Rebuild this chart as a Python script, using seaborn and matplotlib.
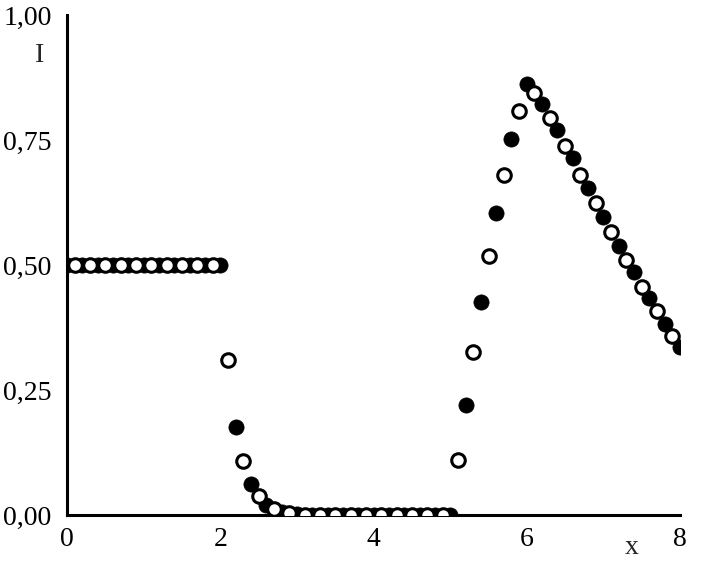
import numpy as np
import pandas as pd
import matplotlib
matplotlib.use("Agg")
import matplotlib.pyplot as plt
import seaborn as sns

# ================= DATA =================
# filled circles at even tenths (0.0 ... 8.0)
filled_x = [round(0.2 * i, 1) for i in range(41)]
filled_y = ([0.5] * 11 +
            [0.175, 0.062, 0.020, 0.006, 0.001] +
            [0.0] * 10 +
            [0.220, 0.425, 0.603, 0.751, 0.862,
             0.822, 0.770, 0.713, 0.653, 0.595,
             0.537, 0.485, 0.433, 0.381, 0.335])

# open circles at odd tenths (0.1 ... 7.9)
open_x = [round(0.1 + 0.2 * i, 1) for i in range(40)]
open_y = ([0.5] * 10 +
          [0.310, 0.108, 0.038, 0.012, 0.003] +
          [0.0] * 10 +
          [0.110, 0.325, 0.517, 0.679, 0.808,
           0.843, 0.793, 0.737, 0.679, 0.623,
           0.565, 0.509, 0.455, 0.407, 0.357])

x_ticks = [0, 2, 4, 6, 8]
y_ticks = [0.0, 0.25, 0.5, 0.75, 1.0]
y_tick_labels = ["0,00", "0,25", "0,50", "0,75", "1,00"]

df_filled = pd.DataFrame({"x": filled_x, "I": filled_y})
df_open = pd.DataFrame({"x": open_x, "I": open_y})

# ================= PLOT =================
sns.set_style("white")
plt.rcParams["font.family"] = ["Liberation Serif", "DejaVu Serif"]

fig = plt.figure(figsize=(7.08, 5.63), dpi=100)
ax = fig.add_axes([0.0946, 0.0853, 0.8660, 0.8881])

sns.scatterplot(data=df_filled, x="x", y="I", ax=ax, s=120,
                color="black", edgecolor="black", linewidth=0.5, zorder=3)
sns.scatterplot(data=df_open, x="x", y="I", ax=ax, s=95,
                color="white", edgecolor="black", linewidth=2.2, zorder=4)

ax.set_xlim(0, 8)
ax.set_ylim(0, 1.0)
ax.set_xticks(x_ticks)
ax.set_xticklabels([str(t) for t in x_ticks])
ax.set_yticks(y_ticks)
ax.set_yticklabels(y_tick_labels)
ax.set_xlabel("")
ax.set_ylabel("")

for side in ["top", "right"]:
    ax.spines[side].set_visible(False)
for side in ["left", "bottom"]:
    ax.spines[side].set_linewidth(2.2)
    ax.spines[side].set_color("black")

ax.tick_params(axis="both", direction="in", length=7, width=2.2,
               labelsize=20, colors="black")
ax.tick_params(axis="y", pad=11)
ax.tick_params(axis="x", pad=9)

fig.text(40 / 708, 1 - 55 / 563, "I", fontsize=20, ha="center", va="center")
fig.text(632 / 708, 1 - 548 / 563, "x", fontsize=20, ha="center", va="center")

plt.savefig("out.png", dpi=100)
plt.close()
